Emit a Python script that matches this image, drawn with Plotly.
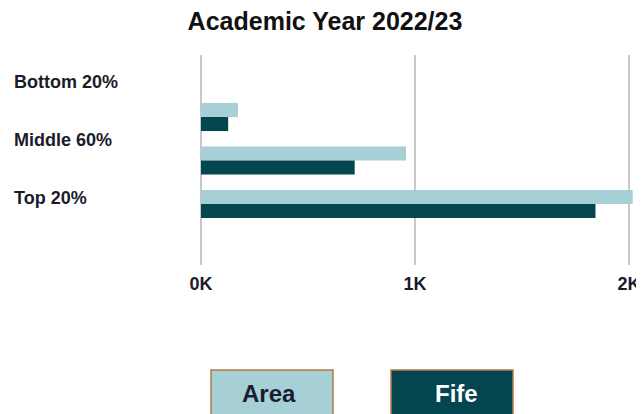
import plotly.graph_objects as go

# Data
categories = ["Bottom 20%", "Middle 60%", "Top 20%"]
series_names = ["Area", "Fife"]
area_values = [173, 958, 2017]
fife_values = [127, 718, 1843]
tick_vals = [0, 1000, 2000]
tick_text = ["0K", "1K", "2K"]

# Styling
OFF = 8  # page body margin, positions below are measured in window pixels
W, H = 644 - OFF, 414 - OFF
L, R, T, B = 201 - OFF, 644 - 634, 55 - OFF, 414 - 265
colors = {"Area": "#a6d0d5", "Fife": "#03464f"}
text_colors = {"Area": "#1b1b33", "Fife": "#ffffff"}
FONT = "Liberation Sans, Arial, sans-serif"

plot_w = W - L - R
plot_h = H - T - B


def px_x(px):
    return (px - OFF - L) / plot_w


def px_y(py):
    return (H - B - (py - OFF)) / plot_h


fig = go.Figure()
for name, vals in zip(series_names, [area_values, fife_values]):
    fig.add_trace(go.Bar(
        x=vals, y=categories, orientation="h", name=name,
        marker=dict(color=colors[name], line=dict(width=0)),
        showlegend=False,
    ))

# invisible trace that holds the label axis
fig.add_trace(go.Scatter(
    x=[0] * len(categories), y=categories, yaxis="y2", mode="markers",
    marker=dict(opacity=0), showlegend=False, hoverinfo="skip",
))

annotations = [
    dict(text=c, xref="paper", x=px_x(12), xanchor="left",
         yref="y2", y=c, yanchor="middle", showarrow=False,
         font=dict(family=FONT, size=18, color="#1b1b2b", weight="bold"))
    for c in categories
]

# legend "buttons" below the chart
shapes = []
box_left = [211, 391]
text_center = [269, 456]
for name, x0, xc in zip(series_names, box_left, text_center):
    shapes.append(dict(
        type="rect", xref="paper", yref="paper",
        x0=px_x(x0), x1=px_x(x0 + 122), y0=px_y(370), y1=px_y(430),
        fillcolor=colors[name], line=dict(color="#b5794b", width=1.5),
        layer="above",
    ))
    annotations.append(dict(
        text=name, xref="paper", x=px_x(xc), xanchor="center",
        yref="paper", y=px_y(393), yanchor="middle", showarrow=False,
        font=dict(family=FONT, size=24, color=text_colors[name], weight="bold"),
    ))

fig.update_layout(
    width=W, height=H,
    margin=dict(l=L, r=R, t=T, b=B, autoexpand=False),
    paper_bgcolor="white", plot_bgcolor="white",
    barmode="group", bargap=0.356, bargroupgap=0,
    title=dict(text="Academic Year 2022/23", x=(325 - OFF) / W, xanchor="center",
               y=1 - (21 - OFF) / H, yanchor="middle",
               font=dict(family=FONT, size=25, color="#111111", weight="bold")),
    xaxis=dict(range=[0, 2023], tickvals=tick_vals, ticktext=tick_text,
               showgrid=True, gridcolor="#c8c8c8", gridwidth=1.5,
               zeroline=True, zerolinecolor="#c8c8c8", zerolinewidth=1.5,
               showline=False, ticks="", ticklabelstandoff=6, automargin=False,
               tickfont=dict(family=FONT, size=18, color="#1b1b2b", weight="bold"),
               fixedrange=True),
    yaxis=dict(type="category", categoryorder="array", categoryarray=categories,
               range=[3.40, -1.425], showticklabels=False, showgrid=False,
               zeroline=False, automargin=False, fixedrange=True),
    yaxis2=dict(type="category", categoryorder="array", categoryarray=categories,
                overlaying="y", range=[3.155, -0.466], visible=False,
                automargin=False, fixedrange=True),
    annotations=annotations,
    shapes=shapes,
)

fig.write_html("out.html")
